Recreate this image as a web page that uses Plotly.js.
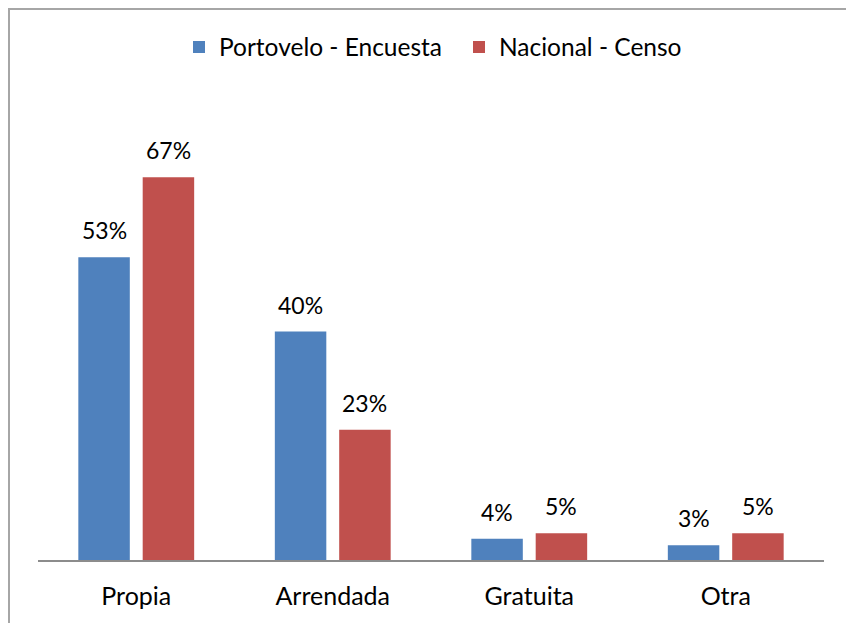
<!DOCTYPE html>
<html>
<head>
<meta charset="utf-8">
<script src="https://cdn.plot.ly/plotly-3.0.1.min.js"></script>
<style>html,body{margin:0;padding:0;background:#fff;}#chart{width:846px;height:623px;}</style>
</head>
<body>
<div id="chart"></div>
<script>
const categories = ['Propia', 'Arrendada', 'Gratuita', 'Otra'];
const seriesNames = ['Portovelo - Encuesta', 'Nacional - Censo'];
const portovelo = [0.53, 0.40, 0.037, 0.026];
const nacional = [0.67, 0.228, 0.047, 0.047];

const FONT = 'Lato, "Open Sans", sans-serif';
const FS = 25, FSLEG = 24.5, FSL = 23;
const colors = ['#4F81BD', '#C0504D'];
const bargap = 0.345, bargroupgap = 0.2;

const traces = [portovelo, nacional].map((vals, i) => ({
  type: 'bar', name: seriesNames[i], x: categories, y: vals,
  marker: {color: colors[i]}, hoverinfo: 'skip'
}));

const L = 38, R = 22, T = 103, B = 63, W = 846, H = 623;
const catW = (W - L - R) / categories.length;
const slot = catW * (1 - bargap) / 2;

const annotations = [];
[portovelo, nacional].forEach((vals, i) => {
  vals.forEach((v, j) => {
    annotations.push({
      x: categories[j], y: v, xref: 'x', yref: 'y',
      text: Math.round(v * 100) + '%', showarrow: false,
      yanchor: 'bottom', xanchor: 'center',
      xshift: (i === 0 ? -1 : 1) * slot / 2, yshift: 11,
      font: {family: FONT, size: FSL, color: '#000'}
    });
  });
});

const plotW = W - L - R, plotH = H - T - B;
const layout = {
  width: W, height: H,
  margin: {l: L, r: R, t: T, b: B},
  paper_bgcolor: '#fff', plot_bgcolor: '#fff',
  barmode: 'group', bargap: bargap, bargroupgap: bargroupgap,
  showlegend: true,
  legend: {orientation: 'h', x: 0.5 + 28 / plotW, xanchor: 'center', y: (560 - 47) / plotH, yanchor: 'middle',
           font: {family: FONT, size: FSLEG, color: '#000'}, entrywidth: 235, traceorder: 'normal'},
  xaxis: {showline: true, linecolor: '#8c8c8c', linewidth: 1.5, showgrid: false, zeroline: false,
          ticks: 'outside', ticklen: 13, tickcolor: 'rgba(0,0,0,0)',
          tickfont: {family: FONT, size: FS, color: '#000'}, fixedrange: true},
  yaxis: {range: [0, 0.8], visible: false, showgrid: false, zeroline: false, fixedrange: true},
  annotations: annotations,
  shapes: [{type: 'rect', xref: 'paper', yref: 'paper',
            x0: (9 - L) / plotW, x1: 1.2, y0: -0.3, y1: (560 - 9) / plotH,
            line: {color: '#a6a6a6', width: 2}, fillcolor: 'rgba(0,0,0,0)', layer: 'below'}]
};

Plotly.newPlot('chart', traces, layout, {displayModeBar: false, staticPlot: true});
</script>
</body>
</html>
